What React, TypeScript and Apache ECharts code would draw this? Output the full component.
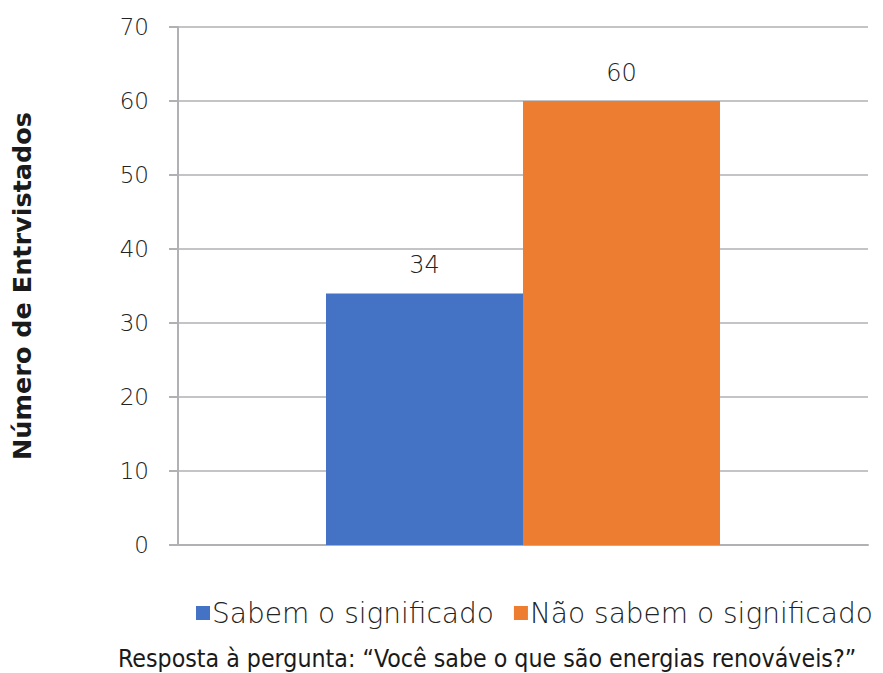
import React, { useEffect, useRef } from "react";
import * as echarts from "echarts";

const categories = [""];
const seriesNames = ["Sabem o significado", "Não sabem o significado"];
const sabem = [34];
const naoSabem = [60];
const yTicks = [0, 10, 20, 30, 40, 50, 60, 70];
const yTitle = "Número de Entrvistados";
const caption = "Resposta à pergunta: “Você sabe o que são energias renováveis?”";

export default function App() {
  const ref = useRef<HTMLDivElement>(null);
  useEffect(() => {
    if (!ref.current) return;
    const chart = echarts.init(ref.current, null, { renderer: "svg" });
    const labelStyle = {
      show: true,
      position: "top" as const,
      distance: 16,
      fontSize: 24,
      fontWeight: 200,
      color: "#222222",
      fontFamily: "DejaVu Sans",
    };
    chart.setOption({
      animation: false,
      backgroundColor: "#ffffff",
      grid: {
        left: 178,
        right: 15,
        top: 27,
        bottom: 128,
        containLabel: false,
        outerBoundsMode: "none",
      },
      xAxis: {
        type: "category",
        data: categories,
        axisLine: { show: true, lineStyle: { color: "#b0b0b5", width: 2 } },
        axisTick: { show: false },
        axisLabel: { show: false },
      },
      yAxis: {
        type: "value",
        min: yTicks[0],
        max: yTicks[yTicks.length - 1],
        interval: 10,
        name: yTitle,
        nameLocation: "middle",
        nameGap: 143,
        nameRotate: 90,
        nameTextStyle: {
          fontSize: 25.5,
          fontWeight: "bold",
          color: "#1a1a1a",
          fontFamily: "DejaVu Sans",
        },
        axisLine: { show: true, lineStyle: { color: "#b0b0b5", width: 2 } },
        axisTick: { show: true, length: 9, lineStyle: { color: "#b0b0b5", width: 2 } },
        axisLabel: {
          fontSize: 23,
          fontWeight: 200,
          color: "#222222",
          margin: 29,
          fontFamily: "DejaVu Sans",
        },
        splitLine: { show: true, lineStyle: { color: "#b0b0b5", width: 1.5 } },
      },
      legend: {
        data: seriesNames,
        left: 191,
        top: 594,
        itemWidth: 14,
        itemHeight: 14,
        itemGap: 20,
        icon: "rect",
        textStyle: {
          fontSize: 28,
          fontWeight: 200,
          color: "#222222",
          fontFamily: "DejaVu Sans",
          padding: [0, 0, 0, -3],
        },
      },
      series: [
        {
          name: seriesNames[0],
          type: "bar",
          data: sabem,
          barWidth: 197,
          barGap: "0%",
          itemStyle: { color: "#4472c4" },
          label: labelStyle,
        },
        {
          name: seriesNames[1],
          type: "bar",
          data: naoSabem,
          barWidth: 197,
          barGap: "0%",
          itemStyle: { color: "#ed7d31" },
          label: labelStyle,
        },
      ],
      graphic: [
        {
          type: "text",
          left: 118,
          top: 646,
          style: {
            text: caption,
            fontSize: 24.7,
            fill: "#1a1a1a",
            fontFamily: "DejaVu Sans Condensed",
          },
        },
      ],
    });
    return () => chart.dispose();
  }, []);
  return <div ref={ref} style={{ width: 883, height: 673, position: "absolute", left: 0, top: 0 }} />;
}
